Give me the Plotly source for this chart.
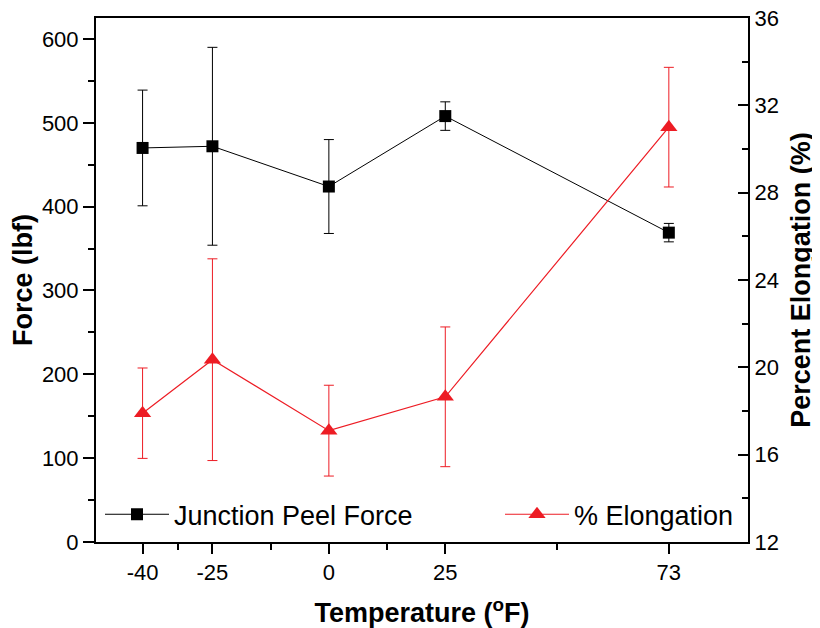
import plotly.graph_objects as go

temperature = [-40, -25, 0, 25, 73]
tick_labels = ["-40", "-25", "0", "25", "73"]
minor_x = [-32.5, -12.5, 12.5, 49]

peel_force = [470, 472, 424, 508, 369]
peel_force_err = [69, 118, 56, 17, 11]

elongation = [17.9, 20.35, 17.1, 18.65, 31.0]
elongation_err = [2.07, 4.62, 2.08, 3.2, 2.74]

FONT = "Liberation Sans, Arial, sans-serif"
RED = "#ED1C24"

fig = go.Figure()
fig.add_trace(go.Scatter(
    x=temperature, y=peel_force, name="Junction Peel Force",
    mode="lines+markers",
    line=dict(color="black", width=1),
    marker=dict(symbol="square", size=12, color="black"),
    error_y=dict(type="data", array=peel_force_err, visible=True,
                 color="black", thickness=1, width=5),
    yaxis="y", legend="legend"))
fig.add_trace(go.Scatter(
    x=temperature, y=elongation, name="% Elongation",
    mode="lines+markers",
    line=dict(color=RED, width=1.2),
    marker=dict(symbol="triangle-up", size=15, color=RED),
    error_y=dict(type="data", array=elongation_err, visible=True,
                 color=RED, thickness=1, width=5),
    yaxis="y2", legend="legend2"))

axis_font = dict(family=FONT, size=22, color="black")
title_font = dict(family=FONT, size=27, color="black", weight="bold")
legend_font = dict(family=FONT, size=27, color="black")

# page body has an 8px margin: figure coordinates = screenshot - 8
OFF = 8
PL, PW, PB, PH = 96 - OFF, 652, 542.3 - OFF, 524
leg_y = (PB - (515 - OFF)) / PH

fig.update_layout(
    width=820 - OFF, height=628 - OFF,
    margin=dict(l=PL, r=820 - OFF - PL - PW, t=18 - OFF,
                b=628 - OFF - (18 - OFF) - PH, autoexpand=False),
    paper_bgcolor="white", plot_bgcolor="white",
    font=dict(family=FONT, color="black"),
    showlegend=True,
    legend=dict(orientation="h", x=(100 - 96) / PW, xanchor="left",
                y=leg_y, yanchor="middle", font=legend_font,
                bgcolor="rgba(0,0,0,0)", borderwidth=0, itemwidth=64),
    legend2=dict(orientation="h", x=(500 - 96) / PW, xanchor="left",
                 y=leg_y, yanchor="middle", font=legend_font,
                 bgcolor="rgba(0,0,0,0)", borderwidth=0, itemwidth=64),
    xaxis=dict(range=[-50, 90], tickmode="array", tickvals=temperature,
               ticktext=tick_labels, ticks="outside", ticklen=10, tickwidth=2,
               tickcolor="black", showline=True, linewidth=2, linecolor="black",
               mirror=True, showgrid=False, zeroline=False, tickfont=axis_font,
               automargin=False, ticklabeloverflow="allow",
               minor=dict(tickmode="array", tickvals=minor_x, ticks="outside",
                          ticklen=6, tickwidth=2, tickcolor="black"),
               title=dict(text="Temperature (<sup>o</sup>F)", font=title_font,
                          standoff=21)),
    yaxis=dict(range=[0, 625], tickmode="array",
               tickvals=[0, 100, 200, 300, 400, 500, 600],
               ticks="outside", ticklen=11, tickwidth=2, tickcolor="black",
               showline=True, linewidth=2, linecolor="black",
               showgrid=False, zeroline=False, tickfont=axis_font,
               automargin=False, ticklabeloverflow="allow",
               minor=dict(tickmode="array",
                          tickvals=[50, 150, 250, 350, 450, 550],
                          ticks="outside", ticklen=6, tickwidth=2,
                          tickcolor="black"),
               title=dict(text="Force (lbf)", font=title_font, standoff=5)),
    yaxis2=dict(range=[12, 36], overlaying="y", side="right", tickmode="array",
                tickvals=[12, 16, 20, 24, 28, 32, 36],
                ticks="inside", ticklen=10, tickwidth=2, tickcolor="black",
                showline=True, linewidth=2, linecolor="black",
                showgrid=False, zeroline=False, tickfont=axis_font,
                automargin=False, ticklabeloverflow="allow",
                minor=dict(tickmode="array", tickvals=[14, 18, 22, 26, 30, 34],
                           ticks="inside", ticklen=6, tickwidth=2,
                           tickcolor="black"),
                title=dict(text="Percent Elongation (%)", font=title_font,
                           standoff=13)),
)

fig.write_html("out.html")
